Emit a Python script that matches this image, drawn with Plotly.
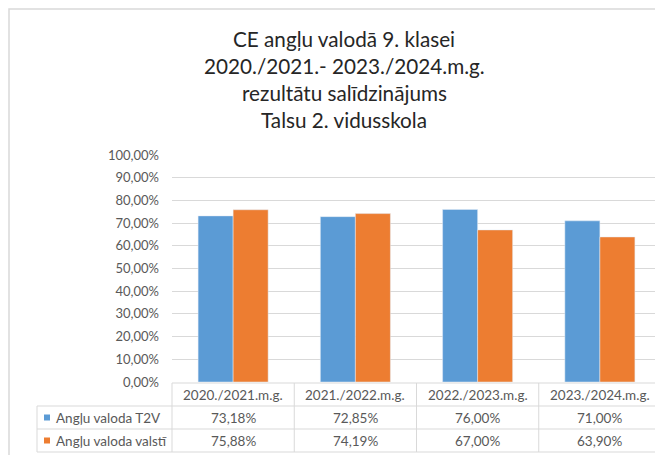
import plotly.graph_objects as go

# data
categories = ['2020./2021.m.g.', '2021./2022.m.g.', '2022./2023.m.g.', '2023./2024.m.g.']
series_names = ['Angļu valoda T2V', 'Angļu valoda valstī']
t2v_values = [0.7318, 0.7285, 0.7600, 0.7100]
valsts_values = [0.7588, 0.7419, 0.6700, 0.6390]
title_lines = ['CE angļu valodā 9. klasei', '2020./2021.- 2023./2024.m.g.',
               'rezultātu salīdzinājums', 'Talsu 2. vidusskola']

W, H = 663, 455
OFF = 8  # page body margin
L, T = 172 - OFF, 155 - OFF
PW, PH = 489, 227
R, B = W - L - PW, H - T - PH
FONT = 'Lato, Calibri, sans-serif'
BLUE, ORANGE = '#5B9BD5', '#ED7D31'
GRID = '#D9D9D9'
TXT = '#595959'


def px_x(p):
    # window pixel column -> paper x
    return (p - OFF - L) / PW


def px_y(p):
    # window pixel row -> paper y
    return (T + PH - (p - OFF)) / PH


fig = go.Figure()
fig.add_trace(go.Bar(x=categories, y=t2v_values, name=series_names[0], marker_color=BLUE))
fig.add_trace(go.Bar(x=categories, y=valsts_values, name=series_names[1], marker_color=ORANGE))

fig.update_layout(
    width=W, height=H,
    margin=dict(l=L, r=R, t=T, b=B),
    paper_bgcolor='white', plot_bgcolor='white',
    barmode='group', bargap=0.427, bargroupgap=0,
    showlegend=False,
    separators=', ',
    font=dict(family=FONT, color=TXT, size=13),
)
fig.update_yaxes(range=[0, 1], dtick=0.1, tickformat='.2%', gridcolor=GRID, gridwidth=1,
                 zeroline=False, showline=False, ticks='', ticklabelstandoff=12,
                 tickfont=dict(family=FONT, size=13, color=TXT))
fig.update_xaxes(range=[-0.5, len(categories) - 0.5], showticklabels=False, showgrid=False,
                 zeroline=False, showline=False, ticks='')

shapes = []
# outer chart border (left and top visible)
shapes.append(dict(type='rect', xref='paper', yref='paper', x0=px_x(9), x1=px_x(720),
                   y0=px_y(480), y1=px_y(9), line=dict(color=GRID, width=1.5)))
# data table grid
row_edges = [383, 406, 429, 452]
n = len(categories)
shapes.append(dict(type='line', xref='paper', yref='paper', x0=0, x1=1,
                   y0=px_y(row_edges[0]), y1=px_y(row_edges[0]), line=dict(color=GRID, width=1)))
for r in row_edges[1:]:
    shapes.append(dict(type='line', xref='paper', yref='paper', x0=px_x(37), x1=1,
                       y0=px_y(r), y1=px_y(r), line=dict(color=GRID, width=1)))
for k in range(n + 1):
    shapes.append(dict(type='line', xref='paper', yref='paper', x0=k / n, x1=k / n,
                       y0=px_y(row_edges[0]), y1=px_y(row_edges[-1]), line=dict(color=GRID, width=1)))
shapes.append(dict(type='line', xref='paper', yref='paper', x0=px_x(37), x1=px_x(37),
                   y0=px_y(row_edges[1]), y1=px_y(row_edges[-1]), line=dict(color=GRID, width=1)))

annotations = []
tfont = dict(family=FONT, size=13.5, color=TXT)
row_mid = [(row_edges[i] + row_edges[i + 1]) / 2 for i in range(3)]
for i, c in enumerate(categories):
    annotations.append(dict(x=i, xref='x', y=px_y(row_mid[0]), yref='paper', text=c, showarrow=False,
                            xanchor='center', yanchor='middle', font=tfont))
for vals, color, name, ym in [(t2v_values, BLUE, series_names[0], row_mid[1]),
                              (valsts_values, ORANGE, series_names[1], row_mid[2])]:
    for i, v in enumerate(vals):
        annotations.append(dict(x=i, xref='x', y=px_y(ym), yref='paper',
                                text=f'{v * 100:.2f}%'.replace('.', ','), showarrow=False,
                                xanchor='center', yanchor='middle', font=tfont))
    annotations.append(dict(x=px_x(54), xref='paper', y=px_y(ym), yref='paper', text=name,
                            xanchor='left', yanchor='middle', showarrow=False, font=tfont))
    shapes.append(dict(type='rect', xref='paper', yref='paper', x0=px_x(44), x1=px_x(50),
                       y0=px_y(ym + 3), y1=px_y(ym - 3), fillcolor=color, line=dict(width=0)))

# title, one annotation per line to match the line spacing
title_mid = [39, 66, 93, 120]
for line, ym in zip(title_lines, title_mid):
    annotations.append(dict(x=px_x(344), xref='paper', y=px_y(ym), yref='paper', text=line,
                            xanchor='center', yanchor='middle', showarrow=False,
                            font=dict(family=FONT, size=20.7, color='#262626')))

fig.update_layout(shapes=shapes, annotations=annotations)
fig.write_html('out.html')
